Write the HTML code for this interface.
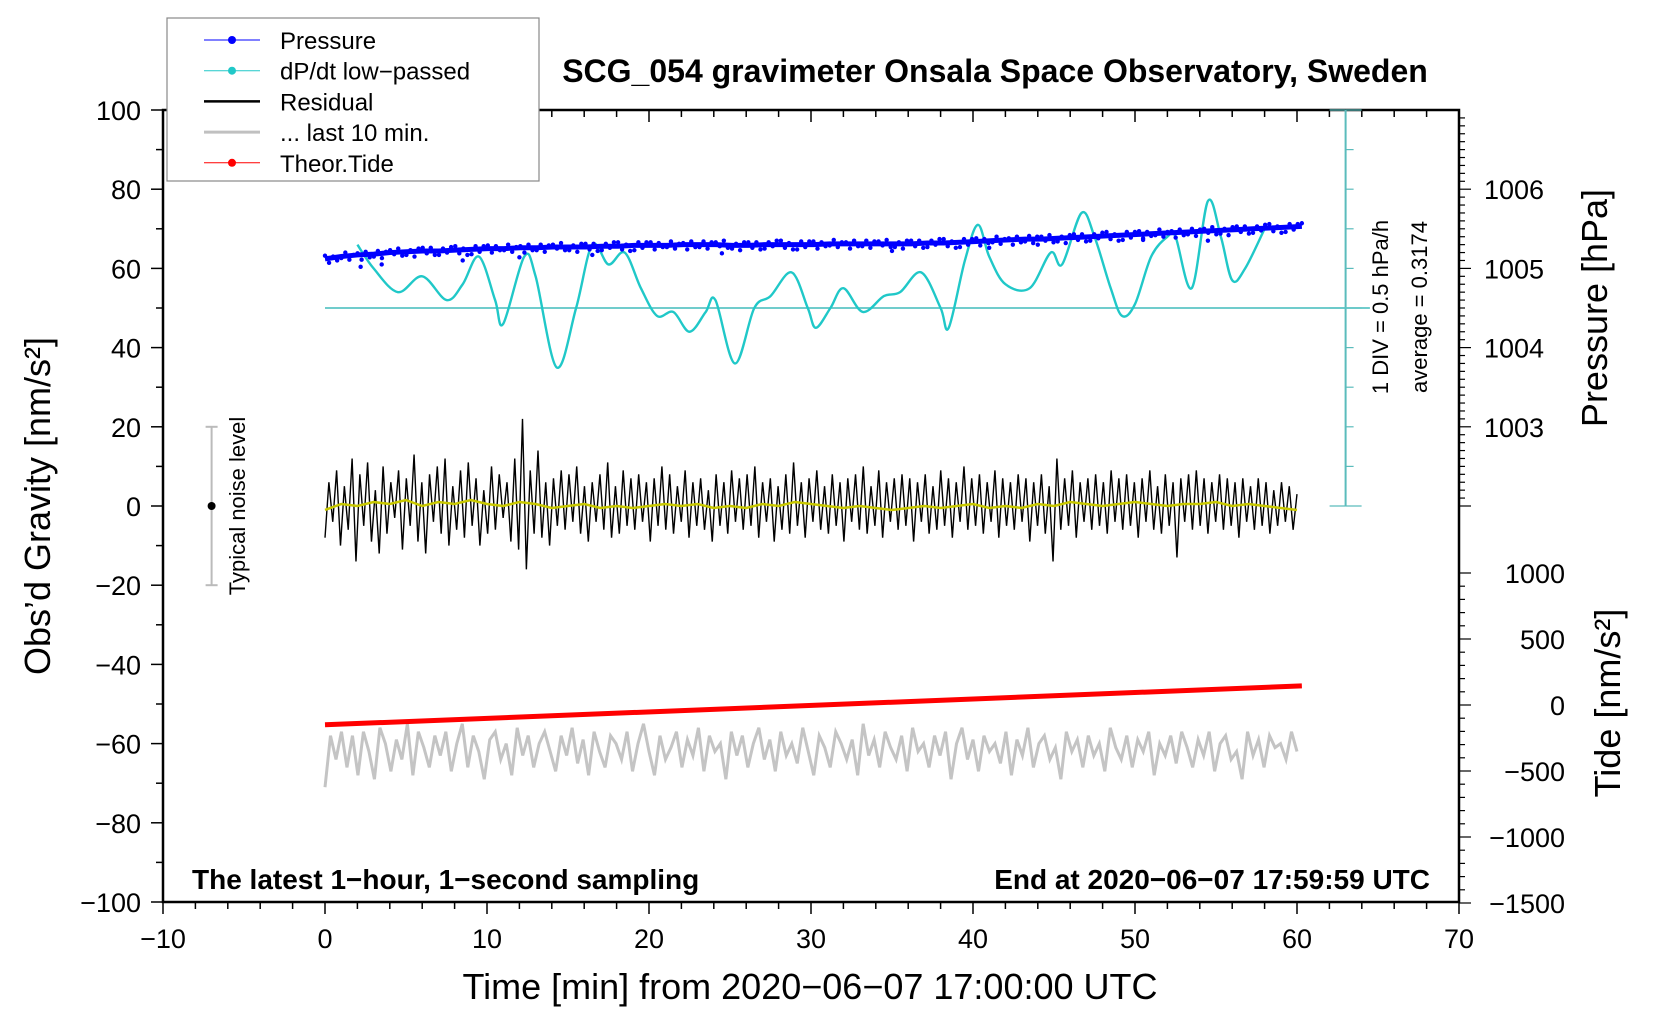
<!DOCTYPE html>
<html><head><meta charset="utf-8">
<style>
html,body{margin:0;padding:0;background:#fff;}
svg{display:block;font-family:"Liberation Sans",sans-serif;}
</style></head>
<body>
<svg id="chart" width="1660" height="1020" viewBox="0 0 1660 1020" xmlns="http://www.w3.org/2000/svg"></svg>
<script>
// ---- data ----
const xTicks = [-10,0,10,20,30,40,50,60,70];
const yTicks = [100,80,60,40,20,0,-20,-40,-60,-80,-100];
const pressureTicks = [1003,1004,1005,1006];
const tideTicks = [1000,500,0,-500,-1000,-1500];
// pressure (hPa) per minute 0..60
const pressureVals = [1005.12,1005.15,1005.17,1005.18,1005.2,1005.21,1005.22,1005.22,1005.23,1005.24,1005.25,1005.25,1005.26,1005.26,1005.27,1005.27,1005.27,1005.28,1005.28,1005.29,1005.29,1005.29,1005.3,1005.3,1005.3,1005.29,1005.29,1005.3,1005.3,1005.3,1005.3,1005.31,1005.31,1005.31,1005.31,1005.31,1005.31,1005.32,1005.32,1005.33,1005.34,1005.35,1005.36,1005.37,1005.37,1005.38,1005.39,1005.4,1005.41,1005.42,1005.43,1005.44,1005.45,1005.46,1005.47,1005.48,1005.49,1005.5,1005.51,1005.52,1005.53];
const pressureJitter = [0.04,-0.05,0.03,-0.02,0.05,-0.04,0.02,-0.06,0.04,-0.03];
const outlierTimes = [2.2,3.5,8.5,12,16.5,24.5,35,41,44,50.5,54.5];
const outlierVals = [1005.02,1005.05,1005.1,1005.14,1005.17,1005.19,1005.22,1005.26,1005.3,1005.36,1005.35];
// dP/dt low-passed (plotted in gravity units)
const dpTimes = [2,3,4.5,6,7.5,8.5,9.5,10.5,11,12.3,13,14.3,15.5,16.5,17.5,18.5,19.5,20.5,21.5,22.5,23.5,24.1,25.3,26.5,27.5,28.8,29.8,30.3,31.2,32,33.2,34.5,35.5,36.8,38,38.5,39.5,40.3,41,42,43.5,44.8,45.5,46.7,47.5,48.5,49.2,50,51,52,52.5,53.5,54.5,55.3,56,56.8,58];
const dpVals = [66,60,54,58,52,56,63,52,46,63,58,35,50,66,61,64,55,48,49,44,49,52,36,50,53,59,50,45,50,55,49,53,54,59,50,45,62,71,63,56,55,64,61,74,68,55,48,51,63,68,68,55,77,68,57,60,70];
// residual (nm/s^2)
const residualVals = [-8,6,-4,9,-10,5,-6,12,-14,8,-5,11,-9,4,-12,10,-7,6,-3,9,-11,7,-5,13,-9,6,-12,8,-4,10,-7,12,-10,5,-6,9,-8,11,-5,7,-10,4,-7,10,-6,8,-3,6,-9,12,-11,22,-16,9,-7,14,-8,6,-10,7,-5,9,-6,8,-4,10,-7,5,-9,6,-4,8,-6,11,-8,5,-7,9,-5,7,-6,8,-4,6,-9,7,-5,10,-6,8,-7,5,-4,9,-8,6,-5,7,-6,4,-9,8,-5,6,-7,9,-4,7,-6,8,-5,10,-8,6,-4,7,-9,5,-6,8,-7,11,-5,6,-8,7,-4,9,-6,5,-7,8,-5,6,-9,7,-4,8,-6,10,-7,5,-5,9,-8,6,-4,7,-6,8,-5,7,-9,6,-4,8,-7,5,-6,9,-5,7,-8,6,-4,10,-6,7,-5,8,-7,6,-4,9,-8,7,-5,6,-6,8,-4,7,-9,6,-5,8,-7,5,-14,12,-6,7,-5,9,-8,6,-4,7,-6,8,-5,6,-7,9,-4,7,-6,8,-5,6,-8,7,-4,9,-6,5,-7,8,-5,6,-13,7,-4,8,-6,9,-5,7,-7,6,-4,8,-6,7,-5,6,-8,7,-4,5,-6,7,-5,6,-7,4,-5,6,-4,5,-6,3];
// smoothed residual (yellow), every 1 min
const smoothVals = [-1,0.5,0,1,0.5,1.5,0,1,0.5,1.5,0.5,0,1,0.5,-0.5,0,0.5,-0.5,0,-0.5,0,0.5,0,0.5,-0.5,0,-0.5,0.5,0,1,0.5,0,-0.5,0,-0.5,-1,-0.5,0,-0.5,0,0.5,-0.5,0,-0.5,0.5,0,1,0.5,0,0.5,1,0.5,0,0.5,0.5,1,0,0.5,0,-0.5,-1];
// last 10 min (gray), gravity units
const lastVals = [-71,-58,-64,-57,-66,-58,-68,-57,-62,-69,-56,-60,-67,-59,-64,-55,-68,-57,-61,-66,-58,-63,-57,-67,-60,-55,-66,-58,-62,-69,-59,-57,-64,-60,-68,-56,-63,-58,-66,-60,-57,-62,-67,-58,-63,-56,-65,-59,-68,-57,-62,-66,-58,-60,-64,-57,-67,-60,-55,-62,-68,-58,-64,-61,-57,-66,-59,-63,-56,-67,-58,-62,-60,-69,-57,-63,-58,-66,-60,-56,-64,-59,-67,-57,-63,-60,-65,-56,-62,-68,-58,-61,-66,-57,-60,-64,-59,-68,-55,-63,-59,-66,-57,-61,-64,-58,-67,-56,-62,-60,-66,-58,-63,-57,-69,-60,-56,-64,-59,-67,-58,-62,-60,-65,-57,-68,-59,-63,-56,-66,-60,-58,-64,-61,-69,-57,-62,-59,-66,-58,-63,-60,-67,-56,-61,-64,-58,-66,-59,-62,-57,-68,-60,-63,-58,-65,-57,-61,-66,-59,-63,-57,-67,-60,-58,-64,-62,-69,-57,-63,-59,-66,-58,-61,-60,-64,-57,-62];
const tideTimes = [0,60.3];
const tideVals = [-150,145];

// ---- axes ----
const svg = document.getElementById('chart');
const NS = 'http://www.w3.org/2000/svg';
const X0=163, X1=1459, Y0=110, Y1=902;
const xs = t => X0 + (t+10)/80*(X1-X0);
const ys = g => Y1 - (g+100)/200*(Y1-Y0);
const yp = p => ys(80 - (1006-p)*20);
const yt = v => 903 - (v+1500)/2500*330;

function el(tag, attrs, parent){
  const e=document.createElementNS(NS,tag);
  for(const k in attrs) e.setAttribute(k,attrs[k]);
  (parent||svg).appendChild(e); return e;
}
function txt(s, attrs){ const e=el('text',attrs); e.textContent=s; return e; }

const frame = el('rect',{x:X0,y:Y0,width:X1-X0,height:Y1-Y0,fill:'none',stroke:'#000','stroke-width':2.5});



for(let t=-10;t<=70;t+=2){
  const major = t%10===0;
  el('line',{x1:xs(t),x2:xs(t),y1:Y1,y2:Y1+(major?12:7),stroke:'#000','stroke-width':1.5});
  el('line',{x1:xs(t),x2:xs(t),y1:Y0,y2:Y0+(major?12:7),stroke:'#000','stroke-width':1.5});
}
xTicks.forEach(t=>{
  const e=txt(String(t).replace('-','\u2212'),{x:xs(t),y:Y1+46,'font-size':27,'text-anchor':'middle'});
  
  
});
for(let g=-100;g<=100;g+=10){
  const major=g%20===0;
  el('line',{x1:X0-(major?12:7),x2:X0,y1:ys(g),y2:ys(g),stroke:'#000','stroke-width':1.5});
}
yTicks.forEach(g=>{
  const e=txt(String(g).replace('-','\u2212'),{x:X0-22,y:ys(g)+10,'font-size':27,'text-anchor':'end'});
  
  
});
for(let p=1001.5;p<=1007;p+=0.1){
  const g=80-(1006-p)*20; if(g<0||g>100.01) continue;
  const r=Math.round(p*10)%10===0;
  el('line',{x1:X1,x2:X1+(r?12:6),y1:yp(p),y2:yp(p),stroke:'#000','stroke-width':1.2});
}
pressureTicks.forEach(p=>{
  const e=txt(String(p),{x:X1+25,y:yp(p)+10,'font-size':27});
  
  
});
for(let v=-1500;v<=1000;v+=100){
  const r=v%500===0;
  el('line',{x1:X1,x2:X1+(r?12:6),y1:yt(v),y2:yt(v),stroke:'#000','stroke-width':1.2});
}
tideTicks.forEach(v=>{
  const e=txt(String(v).replace('-','\u2212'),{x:X1+106,y:yt(v)+10,'font-size':27,'text-anchor':'end'});
  
  
});

// cyan scale
const cx=xs(63);
el('line',{x1:cx,x2:cx,y1:ys(100),y2:ys(0),stroke:'#5bbcbc','stroke-width':2});
for(let g=0;g<=100;g+=10){
  const w=(g===0||g===50||g===100)?16:8;
  el('line',{x1:cx,x2:cx+w,y1:ys(g),y2:ys(g),stroke:'#5bbcbc','stroke-width':1.2});
  if(w===16) el('line',{x1:cx-16,x2:cx,y1:ys(g),y2:ys(g),stroke:'#5bbcbc','stroke-width':1.2});
}
const base=el('line',{x1:xs(0),x2:xs(64.5),y1:ys(50),y2:ys(50),stroke:'#5cc4c4','stroke-width':1.8});



function smoothPath(pts){
  let d='M'+pts[0][0]+','+pts[0][1];
  for(let i=0;i<pts.length-1;i++){
    const p0=pts[i-1]||pts[i],p1=pts[i],p2=pts[i+1],p3=pts[i+2]||p2;
    d+=' C'+(p1[0]+(p2[0]-p0[0])/6)+','+(p1[1]+(p2[1]-p0[1])/6)+' '+(p2[0]-(p3[0]-p1[0])/6)+','+(p2[1]-(p3[1]-p1[1])/6)+' '+p2[0]+','+p2[1];
  }
  return d;
}
const dp=el('path',{d:smoothPath(dpTimes.map((t,i)=>[xs(t),ys(dpVals[i])])),fill:'none',stroke:'#20c8c8','stroke-width':2.4});



// pressure
const pPts=pressureVals.map((p,i)=>[xs(i*60.3/60),yp(p)]);
const pl=el('polyline',{points:pPts.map(p=>p.join(',')).join(' '),fill:'none',stroke:'#0000ff','stroke-width':5});


pressureVals.forEach((p,i)=>{
  for(let k=0;k<4;k++){
    const t=i*60.3/60+k*0.25; if(t>60.3) continue;
    const j=pressureJitter[(i*3+k)%pressureJitter.length];
    const c=el('circle',{cx:xs(t),cy:yp(p+j),r:2.2,fill:'#0000ff'});
    
    
  }
});
outlierTimes.forEach((t,i)=>{
  const c=el('circle',{cx:xs(t),cy:yp(outlierVals[i]),r:2.2,fill:'#0000ff'});
  
  
});

// residual
const nR=residualVals.length;
const res=el('polyline',{points:residualVals.map((v,i)=>xs(i*60/(nR-1))+','+ys(v)).join(' '),fill:'none',stroke:'#000','stroke-width':1.4});


const nS=smoothVals.length;
const sm=el('polyline',{points:smoothVals.map((v,i)=>xs(i*60/(nS-1))+','+ys(v)).join(' '),fill:'none',stroke:'#c8c800','stroke-width':2.5});



const gr=el('polyline',{points:lastVals.map((v,i)=>xs(i*60/(lastVals.length-1))+','+ys(v)).join(' '),fill:'none',stroke:'#c4c4c4','stroke-width':3});



const td=el('line',{x1:xs(tideTimes[0]),x2:xs(tideTimes[1]),y1:yt(tideVals[0]),y2:yt(tideVals[1]),stroke:'#ff0000','stroke-width':5});



const nx=xs(-7);
el('line',{x1:nx,x2:nx,y1:ys(20),y2:ys(-20),stroke:'#bbb','stroke-width':2});
el('line',{x1:nx-6,x2:nx+6,y1:ys(20),y2:ys(20),stroke:'#bbb','stroke-width':2});
el('line',{x1:nx-6,x2:nx+6,y1:ys(-20),y2:ys(-20),stroke:'#bbb','stroke-width':2});
el('circle',{cx:nx,cy:ys(0),r:4,fill:'#000'});
</script>
<script>
(function(){
const svg=document.getElementById('chart');const NS='http://www.w3.org/2000/svg';
function t(s,a,name){const e=document.createElementNS(NS,'text');for(const k in a)e.setAttribute(k,a[k]);e.textContent=s;svg.appendChild(e);return e;}
t('SCG_054 gravimeter Onsala Space Observatory, Sweden',{x:995,y:82,'font-size':32,'font-weight':'bold','text-anchor':'middle'},'chart-title');
t('The latest 1\u2212hour, 1\u2212second sampling',{x:192,y:889,'font-size':28,'font-weight':'bold'},'subtitle-left');
t('End at 2020\u221206\u221207 17:59:59 UTC',{x:1430,y:889,'font-size':28,'font-weight':'bold','text-anchor':'end'},'subtitle-right');
t('Time [min] from 2020\u221206\u221207 17:00:00 UTC',{x:810,y:999,'font-size':36,'text-anchor':'middle'},'x-axis-title');
t('Obs\u2019d Gravity [nm/s\u00b2]',{x:0,y:0,'font-size':36,'text-anchor':'middle',transform:'translate(50,506) rotate(-90)'},'y-axis-title');
t('Pressure [hPa]',{x:0,y:0,'font-size':36,'text-anchor':'middle',transform:'translate(1607,308) rotate(-90)'},'pressure-axis-title');
t('Tide [nm/s\u00b2]',{x:0,y:0,'font-size':36,'text-anchor':'middle',transform:'translate(1620,703) rotate(-90)'},'tide-axis-title');
t('Typical noise level',{x:0,y:0,'font-size':22,'text-anchor':'middle',transform:'translate(245,506) rotate(-90)'},'noise-level-label');
t('1 DIV = 0.5 hPa/h',{x:0,y:0,'font-size':22,'text-anchor':'middle',transform:'translate(1388,307) rotate(-90)'},'div-label');
t('average = 0.3174',{x:0,y:0,'font-size':22,'text-anchor':'middle',transform:'translate(1427,307) rotate(-90)'},'average-label');
const g=document.createElementNS(NS,'g');svg.appendChild(g);
const r=document.createElementNS(NS,'rect');
r.setAttribute('x',167);r.setAttribute('y',18);r.setAttribute('width',372);r.setAttribute('height',163);r.setAttribute('fill','#fff');r.setAttribute('stroke','#888');r.setAttribute('stroke-width',1.2);g.appendChild(r);
const items=[['Pressure','#0000ff',1,true],['dP/dt low\u2212passed','#20c8c8',1,true],['Residual','#000',2.5,false],['... last 10 min.','#c0c0c0',3,false],['Theor.Tide','#ff0000',1,true]];
items.forEach((it,i)=>{
  const y=40+i*30.7;
  const l=document.createElementNS(NS,'line');l.setAttribute('x1',204);l.setAttribute('x2',260);l.setAttribute('y1',y);l.setAttribute('y2',y);l.setAttribute('stroke',it[1]);l.setAttribute('stroke-width',it[2]);g.appendChild(l);
  if(it[3]){const c=document.createElementNS(NS,'circle');c.setAttribute('cx',232);c.setAttribute('cy',y);c.setAttribute('r',4);c.setAttribute('fill',it[1]);g.appendChild(c);}
  const tx=document.createElementNS(NS,'text');tx.setAttribute('x',280);tx.setAttribute('y',y+9);tx.setAttribute('font-size',24);tx.textContent=it[0];
  g.appendChild(tx);
});
})();
</script>
</body></html>
